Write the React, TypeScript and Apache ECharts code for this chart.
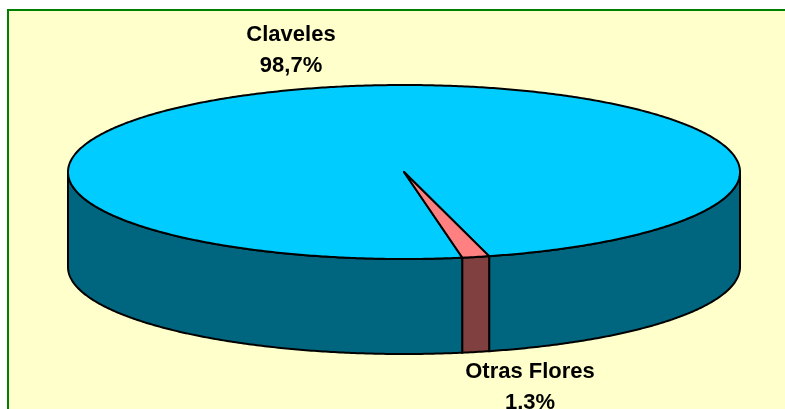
import { useEffect, useRef } from 'react';
import * as echarts from 'echarts';

const categories = ['Claveles', 'Otras Flores'];
const values = [98.7, 1.3];
const topColors = ['#00CCFF', '#FF8080'];
const sideColors = ['#006680', '#804040'];

const CX = 404;
const CY = 172;
const RX = 336;
const RY = 87;
const DEPTH = 95;
const START = 80;

function ellipsePt(tDeg: number, dy: number): number[] {
  const t = (tDeg * Math.PI) / 180;
  return [CX + RX * Math.cos(t), CY + RY * Math.sin(t) + dy];
}

function arc(a: number, b: number, dy: number): number[][] {
  const pts: number[][] = [];
  const n = Math.max(2, Math.ceil(Math.abs(b - a) / 0.5));
  for (let i = 0; i <= n; i++) pts.push(ellipsePt(a + ((b - a) * i) / n, dy));
  return pts;
}

function fmt(v: number): string {
  return v.toFixed(1).replace('.', ',') + '%';
}

export default function App() {
  const ref = useRef<HTMLDivElement>(null);
  useEffect(() => {
    if (!ref.current) return;
    const chart = echarts.init(ref.current, undefined, { renderer: 'svg' });
    const total = values.reduce((s, v) => s + v, 0);
    const lineStyle = { stroke: '#000', lineWidth: 2, lineJoin: 'round' as const };

    const renderItem = (params: any) => {
      const idx = params.dataIndex;
      let a = START;
      for (let j = 0; j < idx; j++) a += (values[j] / total) * 360;
      const b = a + (values[idx] / total) * 360;
      const children: any[] = [];
      for (let k = -1; k <= 2; k++) {
        const s = Math.max(a, k * 360);
        const e = Math.min(b, k * 360 + 180);
        if (s < e) {
          const pts = arc(s, e, 0).concat(arc(e, s, DEPTH));
          children.push({
            type: 'polygon',
            z2: 1,
            shape: { points: pts },
            style: { fill: sideColors[idx], ...lineStyle },
          });
        }
      }
      children.push({
        type: 'polygon',
        z2: 2,
        shape: { points: [[CX, CY]].concat(arc(a, b, 0)) },
        style: { fill: topColors[idx], ...lineStyle },
      });
      return { type: 'group', children };
    };

    const labelFont = 'bold 22px "Liberation Sans", Arial, sans-serif';

    chart.setOption({
      animation: false,
      graphic: [
        {
          type: 'rect',
          z: -10,
          shape: { x: 8, y: 10, width: 800, height: 420 },
          style: { fill: '#FFFFCC', stroke: '#008000', lineWidth: 2 },
        },
        {
          type: 'text',
          z: 100,
          x: 291,
          y: 49,
          style: {
            text: categories[0] + '\n' + fmt(values[0]),
            fill: '#000',
            font: labelFont,
            align: 'center',
            verticalAlign: 'middle',
            lineHeight: 31,
          },
        },
        {
          type: 'text',
          z: 100,
          x: 530,
          y: 386,
          style: {
            text: categories[1] + '\n' + fmt(values[1]),
            fill: '#000',
            font: labelFont,
            align: 'center',
            verticalAlign: 'middle',
            lineHeight: 31,
          },
        },
      ],
      series: [
        {
          type: 'custom',
          coordinateSystem: 'none',
          renderItem,
          data: values.map((v, i) => ({ value: v, name: categories[i] })),
        },
      ],
    });
    return () => chart.dispose();
  }, []);
  return (
    <div
      ref={ref}
      style={{ position: 'fixed', left: 0, top: 0, width: 785, height: 409 }}
    />
  );
}
